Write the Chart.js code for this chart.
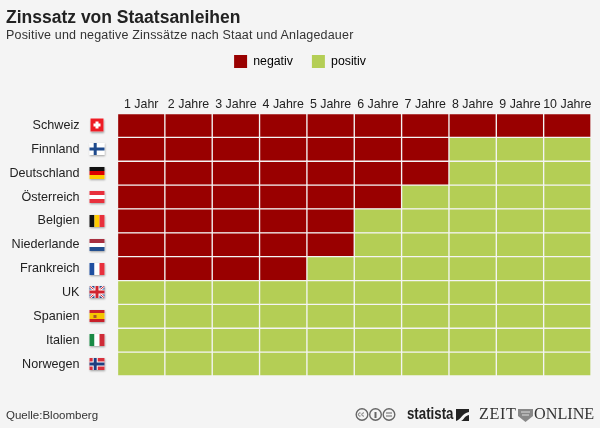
<!DOCTYPE html>
<html lang="de">
<head>
<meta charset="utf-8">
<title>Zinssatz von Staatsanleihen</title>
<script src="https://cdn.jsdelivr.net/npm/chart.js@4"></script>
<style>
  html, body { margin: 0; padding: 0; background: #f4f4f4; }
  body { width: 600px; height: 428px; position: relative; overflow: hidden; font-family: "Liberation Sans", Arial, sans-serif; }
  canvas { position: absolute; left: 0; top: 0; }
  .txt { position: absolute; white-space: nowrap; }
  #title { left: 6px; top: 7px; font-size: 17.5px; font-weight: bold; color: #222; }
  #subtitle { left: 6px; top: 28px; font-size: 12.5px; color: #333; letter-spacing: 0.18px; }
  #source { left: 6px; top: 409px; font-size: 11.5px; color: #333; }
  #statista { left: 407px; top: 404px; font-size: 17px; font-weight: bold; color: #222; transform: scaleX(0.78); transform-origin: left center; }
  #zeit { left: 479px; top: 405px; font-family: "Liberation Serif", serif; font-size: 16.2px; letter-spacing: 0.6px; color: #333; }
  #online { left: 534px; top: 405px; font-family: "Liberation Serif", serif; font-size: 16.2px; color: #333; }
  svg { position: absolute; }
</style>
</head>
<body>
<canvas id="chart" width="600" height="428"></canvas>
<div class="txt" id="title">Zinssatz von Staatsanleihen</div>
<div class="txt" id="subtitle">Positive und negative Zinssätze nach Staat und Anlagedauer</div>
<div class="txt" id="source">Quelle:Bloomberg</div>
<svg style="left:355px;top:407px" width="44" height="15" fill="none" stroke="#666" stroke-width="1.4">
  <circle cx="7" cy="7.5" r="5.8"/><circle cx="20.5" cy="7.5" r="5.8"/><circle cx="34" cy="7.5" r="5.8"/>
  <path d="M5.5 6 a1.6 1.6 0 1 0 0 3 M9 6 a1.6 1.6 0 1 0 0 3" stroke-width="1"/>
  <path d="M20.5 5 v6" stroke-width="2"/>
  <path d="M31 6 h6 M31 9 h6" stroke-width="1.2"/>
</svg>
<div class="txt" id="statista">statista</div>
<svg style="left:456px;top:409px" width="13" height="12"><rect width="13" height="12" fill="#222"/><path d="M0 12 C5 11 6 4 13 3 V6 C8 7 8 11 5 12 Z" fill="#f4f4f4"/></svg>
<div class="txt" id="zeit">ZEIT</div>
<svg style="left:517px;top:408px" width="17" height="14"><path d="M1 1 H16 V8 L8.5 14 L1 8 Z" fill="#888"/><path d="M4 4 H13 M5 7 H12" stroke="#ddd" stroke-width="1"/></svg>
<div class="txt" id="online">ONLINE</div>

<script>
(function () {
  'use strict';

  const years = ['1 Jahr', '2 Jahre', '3 Jahre', '4 Jahre', '5 Jahre', '6 Jahre', '7 Jahre', '8 Jahre', '9 Jahre', '10 Jahre'];
  const countries = ['Schweiz', 'Finnland', 'Deutschland', 'Österreich', 'Belgien', 'Niederlande', 'Frankreich', 'UK', 'Spanien', 'Italien', 'Norwegen'];
  // how many of the maturities (from 1 year up) have a negative rate, per country
  const negativeYears = [10, 7, 7, 6, 5, 5, 4, 0, 0, 0, 0];
  const cellValues = [1, 1, 1, 1, 1, 1, 1, 1, 1, 1, 1];
  const legendLabels = ['negativ', 'positiv'];

  const RED = '#990000';
  const GREEN = '#b4ce55';
  const BG = '#f4f4f4';
  const FONT = '"Liberation Sans", Arial, sans-serif';

  const stripes = {
    'Deutschland': ['h', [['#111', 1], ['#d00', 1], ['#fc0', 1]]],
    'Österreich': ['h', [['#e8303c', 1], ['#fff', 1], ['#e8303c', 1]]],
    'Belgien': ['v', [['#111', 1], ['#fc0', 1], ['#e8303c', 1]]],
    'Niederlande': ['h', [['#a83040', 1], ['#fff', 1], ['#24508f', 1]]],
    'Frankreich': ['v', [['#1f4fa0', 1], ['#fff', 1], ['#e8303c', 1]]],
    'Spanien': ['h', [['#c8202a', 1], ['#f5c400', 2], ['#c8202a', 1]]],
    'Italien': ['v', [['#1a8a45', 1], ['#fff', 1], ['#cf2b37', 1]]]
  };

  function drawCross(ctx, x, y, w, h, base, outer, inner) {
    ctx.fillStyle = base;
    ctx.fillRect(x, y, w, h);
    const cx = x + w * 0.38;
    const cy = y + h / 2;
    if (outer) {
      ctx.fillStyle = outer;
      ctx.fillRect(cx - 2.5, y, 5, h);
      ctx.fillRect(x, cy - 2.5, w, 5);
    }
    ctx.fillStyle = inner;
    ctx.fillRect(cx - 1.5, y, 3, h);
    ctx.fillRect(x, cy - 1.5, w, 3);
  }

  function drawUK(ctx, x, y, w, h) {
    ctx.fillStyle = '#2a4a8c';
    ctx.fillRect(x, y, w, h);
    ctx.save();
    ctx.beginPath();
    ctx.rect(x, y, w, h);
    ctx.clip();
    ctx.strokeStyle = '#fff';
    ctx.lineWidth = 2.4;
    ctx.beginPath();
    ctx.moveTo(x, y); ctx.lineTo(x + w, y + h);
    ctx.moveTo(x + w, y); ctx.lineTo(x, y + h);
    ctx.stroke();
    ctx.strokeStyle = '#d0242f';
    ctx.lineWidth = 1;
    ctx.stroke();
    ctx.restore();
    ctx.fillStyle = '#fff';
    ctx.fillRect(x + w / 2 - 2.5, y, 5, h);
    ctx.fillRect(x, y + h / 2 - 2.5, w, 5);
    ctx.fillStyle = '#d0242f';
    ctx.fillRect(x + w / 2 - 1.5, y, 3, h);
    ctx.fillRect(x, y + h / 2 - 1.5, w, 3);
  }

  function drawFlag(ctx, name, cy) {
    const x = 89.5, w = 15, h = 12;
    const y = Math.round(cy - h / 2);
    ctx.save();
    ctx.shadowColor = 'rgba(0,0,0,0.35)';
    ctx.shadowBlur = 2;
    ctx.shadowOffsetY = 1;
    ctx.fillStyle = '#fff';
    if (name === 'Schweiz') {
      ctx.fillRect(x + 1, y - 0.5, 13, 13);
    } else {
      ctx.fillRect(x, y, w, h);
    }
    ctx.restore();

    if (name === 'Schweiz') {
      ctx.fillStyle = '#ee1c25';
      ctx.fillRect(x + 1, y - 0.5, 13, 13);
      ctx.fillStyle = '#fff';
      ctx.fillRect(x + 6, y + 2.5, 3, 7);
      ctx.fillRect(x + 4, y + 4.5, 7, 3);
    } else if (name === 'Finnland') {
      drawCross(ctx, x, y, w, h, '#fff', null, '#1f4a8c');
    } else if (name === 'Norwegen') {
      drawCross(ctx, x, y, w, h, '#d8303c', '#fff', '#1f3f80');
    } else if (name === 'UK') {
      drawUK(ctx, x, y, w, h);
    } else {
      const [dir, parts] = stripes[name];
      const total = parts.reduce((s, p) => s + p[1], 0);
      let pos = 0;
      parts.forEach(p => {
        ctx.fillStyle = p[0];
        if (dir === 'h') ctx.fillRect(x, y + pos / total * h, w, p[1] / total * h);
        else ctx.fillRect(x + pos / total * w, y, p[1] / total * w, h);
        pos += p[1];
      });
      if (name === 'Spanien') {
        ctx.fillStyle = '#a8552a';
        ctx.fillRect(x + 4, y + 5, 3, 3);
      }
    }
  }

  const flagPlugin = {
    id: 'flags',
    afterDraw(chart) {
      const yScale = chart.scales.y;
      countries.forEach((c, i) => drawFlag(chart.ctx, c, yScale.getPixelForValue(i)));
    }
  };

  const datasets = years.map((year, col) => ({
    label: year,
    data: cellValues,
    backgroundColor: negativeYears.map(n => (col < n ? RED : GREEN)),
    borderColor: BG,
    borderWidth: 1,
    borderSkipped: false,
    categoryPercentage: 1,
    barPercentage: 1
  }));

  new Chart(document.getElementById('chart'), {
    type: 'bar',
    plugins: [flagPlugin],
    data: { labels: countries, datasets: datasets },
    options: {
      indexAxis: 'y',
      responsive: false,
      animation: false,
      layout: { padding: { top: 36, right: 9, bottom: 52, left: 9 } },
      plugins: {
        tooltip: { enabled: false },
        legend: {
          position: 'top',
          align: 'center',
          labels: {
            boxWidth: 13,
            boxHeight: 13,
            padding: 19,
            color: '#333',
            font: { family: FONT, size: 12.3 },
            generateLabels() {
              return legendLabels.map((text, i) => ({
                text: text,
                fillStyle: i === 0 ? RED : GREEN,
                strokeStyle: i === 0 ? RED : GREEN,
                lineWidth: 0,
                hidden: false,
                datasetIndex: 0
              }));
            }
          }
        }
      },
      scales: {
        x: {
          type: 'linear',
          position: 'top',
          stacked: true,
          min: 0,
          max: 10,
          grid: { display: false, drawTicks: false, tickLength: 0 },
          border: { display: false },
          afterBuildTicks(scale) {
            scale.ticks = years.map((y, i) => ({ value: i + 0.5 }));
          },
          afterFit(scale) { scale.height = 35.5; },
          ticks: {
            autoSkip: false,
            maxRotation: 0,
            padding: 1,
            color: '#222',
            font: { family: FONT, size: 12.4 },
            callback(value) { return years[Math.floor(value)]; }
          }
        },
        y: {
          type: 'category',
          stacked: true,
          grid: { display: false, drawTicks: false, tickLength: 0 },
          border: { display: false },
          afterFit(scale) { scale.width = 108.5; },
          ticks: {
            autoSkip: false,
            padding: 38,
            color: '#222',
            font: { family: FONT, size: 12.6 }
          }
        }
      }
    }
  });
})();
</script>
</body>
</html>
